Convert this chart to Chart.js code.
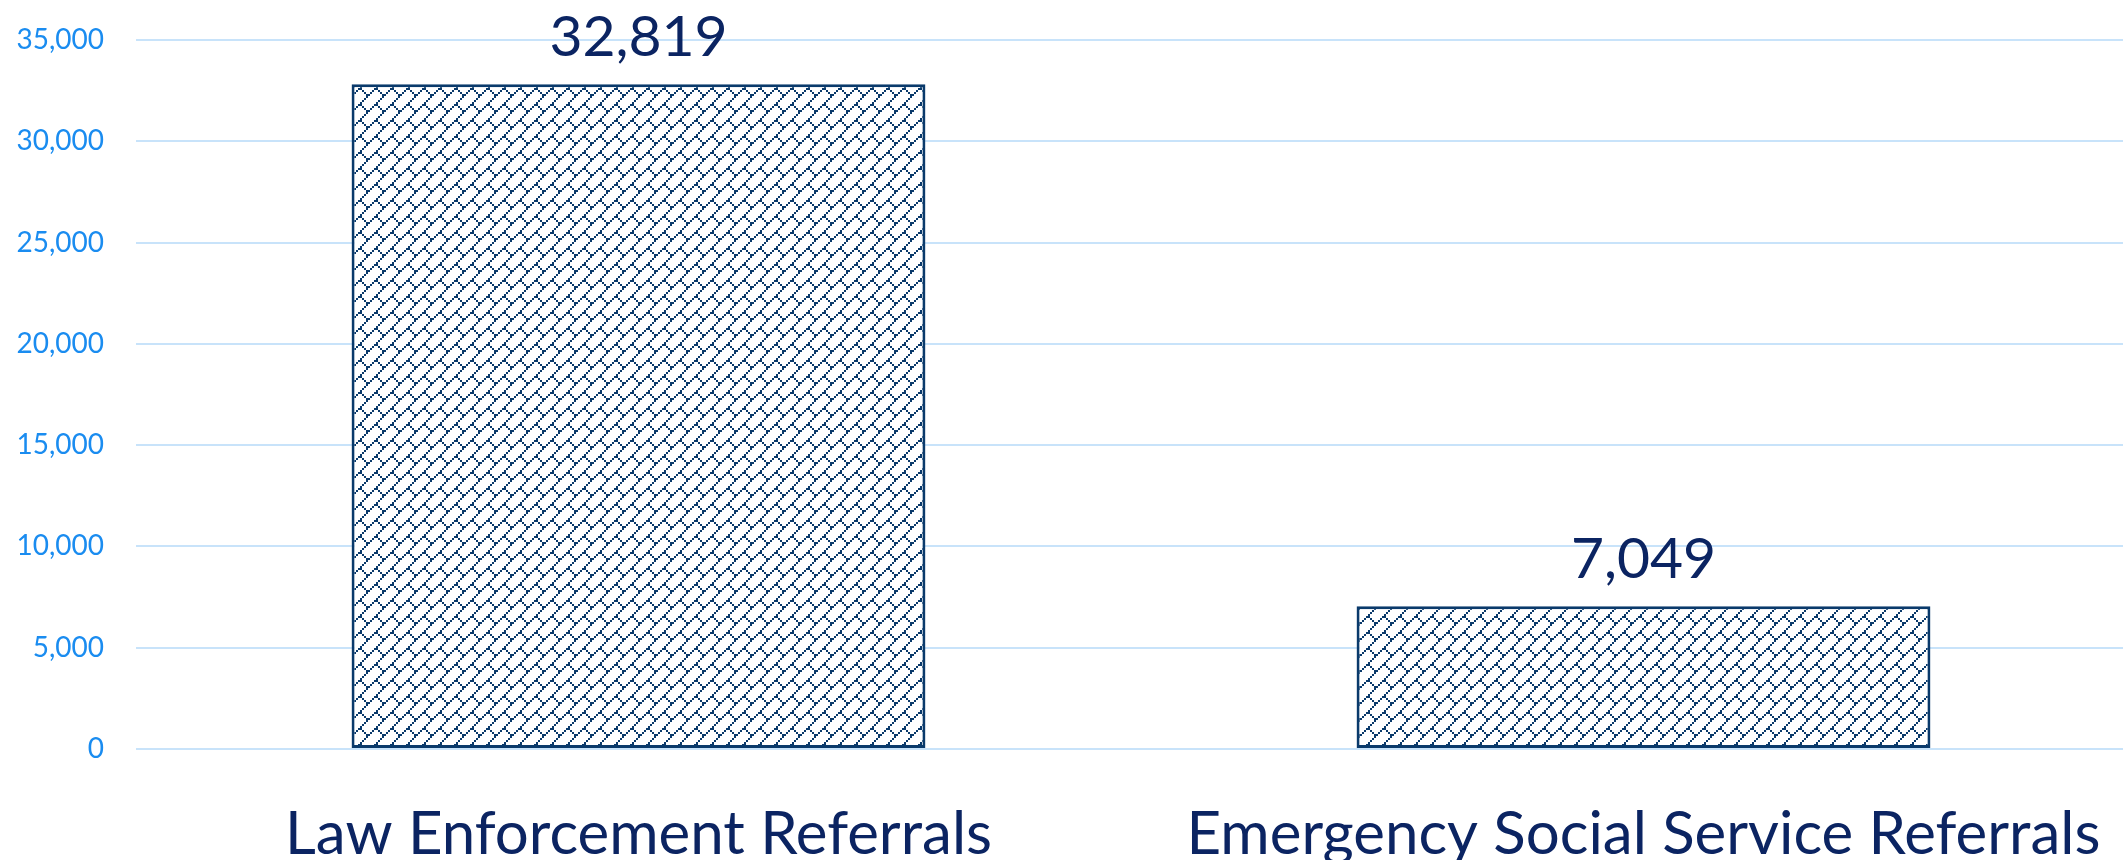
<!DOCTYPE html>
<html>
<head>
<meta charset="utf-8">
<script src="https://cdn.jsdelivr.net/npm/chart.js@4.4.1/dist/chart.umd.min.js"></script>
<style>
  html, body { margin: 0; padding: 0; background: #fff; overflow: hidden; width: 2123px; height: 860px; }
  #wrap { position: absolute; left: 0; top: 0; width: 2160px; height: 860px; }
</style>
</head>
<body>
<div id="wrap"><canvas id="chart"></canvas></div>
<script>
// 데이터
const categories = ['Law Enforcement Referrals', 'Emergency Social Service Referrals'];
const referralCounts = [32819, 7049];
const yTicks = [0, 5000, 10000, 15000, 20000, 25000, 30000, 35000];

const navy = '#0a3a6b';
const labelColor = '#0b2462';

// 대각선 벽돌 패턴 (8x8 비트, 2배 확대)
function makeBrickPattern() {
    const bits = [0x01, 0x02, 0x04, 0x08, 0x18, 0x24, 0x42, 0x81];
    const px = 2;
    const c = document.createElement('canvas');
    c.width = 8 * px;
    c.height = 8 * px;
    const ctx = c.getContext('2d');
    ctx.fillStyle = '#ffffff';
    ctx.fillRect(0, 0, c.width, c.height);
    ctx.fillStyle = navy;
    bits.forEach((b, y) => {
        for (let x = 0; x < 8; x++) {
            if (b & (0x80 >> x)) ctx.fillRect(x * px, y * px, px, px);
        }
    });
    return document.getElementById('chart').getContext('2d').createPattern(c, 'repeat');
}

// 막대 위 값 표시
const valueLabels = {
    id: 'valueLabels',
    afterDatasetsDraw(chart) {
        const ctx = chart.ctx;
        const meta = chart.getDatasetMeta(0);
        ctx.save();
        ctx.font = '57px Lato';
        ctx.fillStyle = labelColor;
        ctx.textAlign = 'center';
        ctx.textBaseline = 'alphabetic';
        meta.data.forEach((bar, i) => {
            const v = chart.data.datasets[0].data[i];
            ctx.fillText(v.toLocaleString('en-US'), bar.x, bar.y - 28);
        });
        ctx.restore();
    }
};

document.addEventListener('DOMContentLoaded', function() {
    const ctx = document.getElementById('chart').getContext('2d');
    new Chart(ctx, {
        type: 'bar',
        data: {
            labels: categories,
            datasets: [{
                data: referralCounts,
                backgroundColor: makeBrickPattern(),
                borderColor: navy,
                borderWidth: 3,
                borderSkipped: false,
                categoryPercentage: 1,
                barPercentage: 0.571
            }]
        },
        options: {
            responsive: true,
            maintainAspectRatio: false,
            animation: false,
            layout: { padding: { left: 0, right: 14, top: 40, bottom: 0 } },
            plugins: {
                legend: { display: false },
                tooltip: { enabled: false }
            },
            scales: {
                x: {
                    grid: { display: false },
                    border: { display: false },
                    ticks: {
                        color: labelColor,
                        font: { family: 'Lato', size: 60 },
                        padding: 42,
                        maxRotation: 0,
                        autoSkip: false
                    },
                    afterFit(scale) { scale.height = 111; }
                },
                y: {
                    min: 0,
                    max: 35000,
                    afterBuildTicks(scale) {
                        scale.ticks = yTicks.map(v => ({ value: v }));
                    },
                    grid: { color: '#c8e3fa', lineWidth: 2, drawTicks: false },
                    border: { display: false },
                    ticks: {
                        color: '#1a8cf0',
                        font: { family: 'Lato', size: 28, lineHeight: 0.1 },
                        padding: 32,
                        callback: v => v.toLocaleString('en-US')
                    },
                    afterFit(scale) { scale.width = 136; }
                }
            }
        },
        plugins: [valueLabels]
    });
});
</script>
</body>
</html>
